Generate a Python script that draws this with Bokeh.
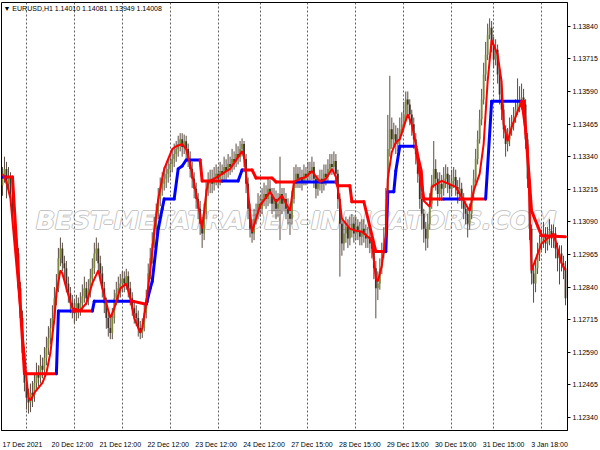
from bokeh.plotting import figure
from bokeh.models import (Range1d, FixedTicker, Label, ColumnDataSource, PrintfTickFormatter,
                          Grid, LinearAxis)
from bokeh.embed import file_html
from bokeh.resources import INLINE

# ---------------- data ----------------
symbol_text = "\u25bc EURUSD,H1  1.14010 1.14081 1.13949 1.14008"
watermark_text = "BEST-METATRADER-INDICATORS.COM"

first_open = 1.13230
close = [
    # 17 Dec
    1.13255, 1.13293, 1.13236, 1.13262, 1.13197, 1.13121, 1.13026, 1.12969, 1.12835, 1.12721, 1.12588, 1.12473,
    # 20 Dec
    1.12416, 1.12397, 1.12435, 1.12424, 1.12473, 1.12511, 1.12492, 1.12538, 1.12523, 1.12569, 1.12607, 1.12645,
    1.12683, 1.12721, 1.12797, 1.12835, 1.12950, 1.12988, 1.12931, 1.12912, 1.12854, 1.12816, 1.12778, 1.12759,
    # 21 Dec
    1.12740, 1.12778, 1.12751, 1.12778, 1.12805, 1.12835, 1.12797, 1.12828, 1.12873, 1.12912, 1.12969, 1.12988,
    1.12931, 1.12892, 1.12835, 1.12778, 1.12721, 1.12683, 1.12664, 1.12721, 1.12797, 1.12816, 1.12835, 1.12854,
    # 22 Dec
    1.12873, 1.12854, 1.12881, 1.12835, 1.12797, 1.12759, 1.12740, 1.12721, 1.12683, 1.12664, 1.12683, 1.12740,
    1.12797, 1.12892, 1.12950, 1.13007, 1.13064, 1.13121, 1.13178, 1.13217, 1.13236, 1.13255, 1.13274, 1.13293,
    # 23 Dec
    1.13312, 1.13331, 1.13350, 1.13369, 1.13388, 1.13407, 1.13377, 1.13399, 1.13369, 1.13331, 1.13293, 1.13255,
    1.13217, 1.13178, 1.13140, 1.13083, 1.13045, 1.13121, 1.13217, 1.13236, 1.13255, 1.13236, 1.13262, 1.13274,
    # 24 Dec
    1.13255, 1.13285, 1.13270, 1.13300, 1.13285, 1.13312, 1.13300, 1.13331, 1.13319, 1.13350, 1.13338, 1.13369,
    1.13388, 1.13331, 1.13236, 1.13140, 1.13064, 1.13045, 1.13102, 1.13121, 1.13159,
    # 27 Dec
    1.13140, 1.13178, 1.13197, 1.13178, 1.13217, 1.13197, 1.13159, 1.13178, 1.13140, 1.13159, 1.13197, 1.13159,
    1.13178, 1.13140, 1.13121, 1.13102, 1.13178, 1.13236, 1.13274, 1.13255, 1.13262, 1.13247, 1.13274, 1.13262,
    # 28 Dec
    1.13285, 1.13274, 1.13300, 1.13255, 1.13217, 1.13236, 1.13255, 1.13236, 1.13274, 1.13262, 1.13293, 1.13312,
    1.13300, 1.13323, 1.13274, 1.13178, 1.13083, 1.13007, 1.13045, 1.13072, 1.13026, 1.13064, 1.13083, 1.13045,
    # 29 Dec
    1.13072, 1.13056, 1.13033, 1.13064, 1.13045, 1.13026, 1.13033, 1.13007, 1.12988, 1.12912, 1.12835, 1.12854,
    1.12912, 1.12969, 1.13026, 1.13178, 1.13369, 1.13445, 1.13407, 1.13426, 1.13388, 1.13407, 1.13445, 1.13464,
    # 30 Dec
    1.13502, 1.13559, 1.13540, 1.13502, 1.13464, 1.13407, 1.13350, 1.13274, 1.13178, 1.13121, 1.13064, 1.13026,
    1.13083, 1.13159, 1.13236, 1.13293, 1.13255, 1.13197, 1.13236, 1.13217, 1.13255, 1.13274, 1.13236, 1.13217,
    # 31 Dec
    1.13247, 1.13262, 1.13224, 1.13197, 1.13217, 1.13178, 1.13140, 1.13121, 1.13083, 1.13121, 1.13197, 1.13255,
    1.13331, 1.13407, 1.13483, 1.13559, 1.13655, 1.13731, 1.13807, 1.13834, 1.13769,
    # 3 Jan
    1.13712, 1.13750, 1.13655, 1.13578, 1.13521, 1.13445, 1.13388, 1.13407, 1.13445, 1.13464, 1.13491, 1.13521,
    1.13540, 1.13559, 1.13567, 1.13540, 1.13407, 1.13255, 1.13064, 1.12892, 1.12854, 1.12912, 1.12969, 1.13007,
    # 4 Jan
    1.13026, 1.13045, 1.13007, 1.13033, 1.13056, 1.13026, 1.13045, 1.12988, 1.12950, 1.12969, 1.12931, 1.12912,
    1.12797,
]
high = [
    1.13300, 1.13340, 1.13320, 1.13300, 1.13280, 1.13215, 1.13140, 1.13060, 1.12990, 1.12860, 1.12750, 1.12610,
    1.12500, 1.12450, 1.12470, 1.12480, 1.12510, 1.12550, 1.12540, 1.12580, 1.12570, 1.12610, 1.12650, 1.12690,
    1.12720, 1.12770, 1.12840, 1.12890, 1.12990, 1.13030, 1.13010, 1.12960, 1.12940, 1.12880, 1.12840, 1.12810,
    1.12790, 1.12810, 1.12800, 1.12820, 1.12850, 1.12880, 1.12860, 1.12870, 1.12910, 1.12950, 1.13010, 1.13030,
    1.13010, 1.12960, 1.12920, 1.12860, 1.12800, 1.12750, 1.12720, 1.12760, 1.12830, 1.12860, 1.12880, 1.12890,
    1.12900, 1.12900, 1.12910, 1.12900, 1.12860, 1.12820, 1.12790, 1.12770, 1.12750, 1.12710, 1.12720, 1.12780,
    1.12830, 1.12930, 1.12990, 1.13050, 1.13110, 1.13160, 1.13220, 1.13260, 1.13280, 1.13300, 1.13310, 1.13330,
    1.13350, 1.13370, 1.13390, 1.13400, 1.13420, 1.13430, 1.13430, 1.13425, 1.13420, 1.13390, 1.13360, 1.13320,
    1.13280, 1.13240, 1.13200, 1.13170, 1.13110, 1.13160, 1.13250, 1.13280, 1.13290, 1.13290, 1.13300, 1.13310,
    1.13300, 1.13320, 1.13310, 1.13340, 1.13330, 1.13350, 1.13340, 1.13370, 1.13360, 1.13390, 1.13380, 1.13400,
    1.13410, 1.13400, 1.13350, 1.13260, 1.13160, 1.13100, 1.13140, 1.13160, 1.13200,
    1.13190, 1.13220, 1.13240, 1.13230, 1.13260, 1.13250, 1.13220, 1.13220, 1.13210, 1.13200, 1.13340, 1.13220,
    1.13220, 1.13200, 1.13180, 1.13160, 1.13210, 1.13300, 1.13310, 1.13300, 1.13300, 1.13290, 1.13310, 1.13300,
    1.13320, 1.13320, 1.13340, 1.13320, 1.13270, 1.13270, 1.13290, 1.13290, 1.13310, 1.13310, 1.13330, 1.13350,
    1.13350, 1.13360, 1.13350, 1.13290, 1.13200, 1.13100, 1.13090, 1.13110, 1.13100, 1.13110, 1.13120, 1.13110,
    1.13110, 1.13100, 1.13090, 1.13100, 1.13100, 1.13080, 1.13070, 1.13060, 1.13040, 1.13010, 1.12940, 1.12900,
    1.12950, 1.13010, 1.13070, 1.13220, 1.13500, 1.13650, 1.13490, 1.13470, 1.13460, 1.13450, 1.13490, 1.13510,
    1.13550, 1.13590, 1.13590, 1.13560, 1.13520, 1.13490, 1.13430, 1.13370, 1.13300, 1.13200, 1.13140, 1.13090,
    1.13120, 1.13200, 1.13270, 1.13400, 1.13330, 1.13280, 1.13280, 1.13270, 1.13300, 1.13310, 1.13300, 1.13270,
    1.13290, 1.13300, 1.13290, 1.13250, 1.13260, 1.13240, 1.13200, 1.13170, 1.13150, 1.13160, 1.13230, 1.13290,
    1.13370, 1.13440, 1.13520, 1.13600, 1.13700, 1.13780, 1.13850, 1.13870, 1.13860,
    1.13800, 1.13790, 1.13770, 1.13680, 1.13600, 1.13540, 1.13460, 1.13450, 1.13490, 1.13500, 1.13530, 1.13560,
    1.13640, 1.13610, 1.13620, 1.13600, 1.13560, 1.13430, 1.13280, 1.13080, 1.12920, 1.12950, 1.13010, 1.13040,
    1.13060, 1.13090, 1.13070, 1.13070, 1.13100, 1.13080, 1.13080, 1.13070, 1.13010, 1.13000, 1.13000, 1.12960,
    1.12940,
]
low = [
    1.13190, 1.13240, 1.13180, 1.13200, 1.13150, 1.13080, 1.12990, 1.12920, 1.12800, 1.12690, 1.12560, 1.12440,
    1.12370, 1.12355, 1.12360, 1.12380, 1.12400, 1.12450, 1.12460, 1.12470, 1.12490, 1.12500, 1.12540, 1.12580,
    1.12620, 1.12660, 1.12700, 1.12770, 1.12820, 1.12920, 1.12900, 1.12870, 1.12820, 1.12780, 1.12740, 1.12720,
    1.12700, 1.12710, 1.12720, 1.12730, 1.12750, 1.12780, 1.12770, 1.12770, 1.12800, 1.12850, 1.12890, 1.12940,
    1.12900, 1.12860, 1.12800, 1.12740, 1.12680, 1.12650, 1.12640, 1.12640, 1.12700, 1.12770, 1.12790, 1.12800,
    1.12820, 1.12820, 1.12830, 1.12800, 1.12770, 1.12730, 1.12700, 1.12690, 1.12650, 1.12640, 1.12645, 1.12670,
    1.12720, 1.12780, 1.12870, 1.12930, 1.12990, 1.13040, 1.13100, 1.13150, 1.13190, 1.13210, 1.13220, 1.13240,
    1.13260, 1.13280, 1.13300, 1.13320, 1.13340, 1.13360, 1.13340, 1.13350, 1.13330, 1.13300, 1.13260, 1.13220,
    1.13180, 1.13140, 1.13100, 1.13040, 1.12990, 1.13020, 1.13100, 1.13190, 1.13200, 1.13200, 1.13210, 1.13230,
    1.13220, 1.13230, 1.13240, 1.13250, 1.13250, 1.13260, 1.13270, 1.13280, 1.13290, 1.13300, 1.13310, 1.13320,
    1.13340, 1.13300, 1.13200, 1.13100, 1.13030, 1.13010, 1.13020, 1.13080, 1.13100,
    1.13110, 1.13120, 1.13150, 1.13140, 1.13150, 1.13160, 1.13120, 1.13130, 1.13100, 1.13110, 1.13020, 1.13120,
    1.13130, 1.13100, 1.13080, 1.13040, 1.13080, 1.13160, 1.13220, 1.13220, 1.13220, 1.13210, 1.13230, 1.13230,
    1.13240, 1.13240, 1.13250, 1.13220, 1.13180, 1.13190, 1.13210, 1.13200, 1.13210, 1.13230, 1.13240, 1.13270,
    1.13270, 1.13280, 1.13240, 1.13140, 1.12880, 1.12960, 1.12980, 1.13010, 1.12990, 1.13000, 1.13030, 1.13010,
    1.13020, 1.13020, 1.13000, 1.13000, 1.13010, 1.12990, 1.12990, 1.12970, 1.12950, 1.12870, 1.12720, 1.12790,
    1.12830, 1.12890, 1.12950, 1.13010, 1.13160, 1.13340, 1.13370, 1.13380, 1.13350, 1.13360, 1.13380, 1.13420,
    1.13440, 1.13480, 1.13500, 1.13460, 1.13420, 1.13370, 1.13310, 1.13240, 1.13140, 1.13060, 1.13010, 1.12980,
    1.12990, 1.13060, 1.13140, 1.13220, 1.13210, 1.13150, 1.13170, 1.13170, 1.13190, 1.13220, 1.13200, 1.13180,
    1.13190, 1.13220, 1.13190, 1.13160, 1.13170, 1.13140, 1.13100, 1.13080, 1.13030, 1.13060, 1.13100, 1.13180,
    1.13240, 1.13310, 1.13390, 1.13460, 1.13540, 1.13630, 1.13710, 1.13790, 1.13740,
    1.13680, 1.13690, 1.13620, 1.13540, 1.13480, 1.13410, 1.13340, 1.13360, 1.13380, 1.13420, 1.13440, 1.13470,
    1.13500, 1.13510, 1.13520, 1.13490, 1.13370, 1.13220, 1.13020, 1.12850, 1.12780, 1.12820, 1.12890, 1.12940,
    1.12980, 1.12990, 1.12970, 1.12980, 1.13000, 1.12990, 1.12990, 1.12950, 1.12900, 1.12850, 1.12900, 1.12870,
    1.12770,
]

# moving-average line (red), vertices
ma_bars = [0, 2, 4, 6, 8, 10, 12, 13, 14, 16, 20, 22, 24, 26, 27, 29, 30, 32, 35, 39,
           42, 45, 48, 50, 54, 56, 59, 62, 64, 66, 69, 70, 72, 74, 76, 78, 80, 81, 83, 85,
           87, 90, 92, 94, 96, 98, 100, 102, 103, 106, 110, 114, 118, 120, 121, 123, 125, 127, 129, 134,
           137, 140, 144, 146, 149, 152, 155, 159, 162, 165, 167, 169, 170, 174, 177, 180, 184, 185, 187, 188,
           190, 192, 193, 195, 197, 199, 203, 205, 208, 210, 211, 214, 215, 220, 227, 231, 234, 236, 239, 241,
           243, 245, 248, 250, 251, 253, 255, 258, 260, 263, 265, 270, 276, 280, 282]
ma_vals = [1.13274, 1.13243, 1.13178, 1.13007, 1.12835, 1.12664, 1.12492, 1.12416, 1.12405, 1.12435,
           1.12473, 1.12511, 1.12588, 1.12721, 1.12816, 1.12904, 1.12892, 1.12835, 1.12759, 1.12751,
           1.12778, 1.12854, 1.12904, 1.12835, 1.12721, 1.12759, 1.12835, 1.12854, 1.12797, 1.12721,
           1.12664, 1.12683, 1.12778, 1.12904, 1.13052, 1.13178, 1.13255, 1.13293, 1.13331, 1.13369,
           1.13380, 1.13388, 1.13369, 1.13312, 1.13236, 1.13159, 1.13064, 1.13197, 1.13243, 1.13255,
           1.13274, 1.13293, 1.13338, 1.13361, 1.13342, 1.13205, 1.13052, 1.13102, 1.13152, 1.13205,
           1.13167, 1.13190, 1.13132, 1.13243, 1.13255, 1.13262, 1.13285, 1.13243, 1.13255, 1.13293,
           1.13262, 1.13167, 1.13102, 1.13064, 1.13056, 1.13052, 1.13026, 1.13014, 1.12873, 1.12862,
           1.12923, 1.13037, 1.13255, 1.13357, 1.13395, 1.13407, 1.13502, 1.13464, 1.13350, 1.13285,
           1.13171, 1.13148, 1.13224, 1.13247, 1.13224, 1.13171, 1.13132, 1.13209, 1.13274, 1.13388,
           1.13628, 1.13788, 1.13731, 1.13628, 1.13464, 1.13399, 1.13453, 1.13513, 1.13548, 1.13376,
           1.12904, 1.13007, 1.13045, 1.12931, 1.12904]

# step line, vertices and direction of each segment (U = blue, D = red)
step_bars = [0, 2, 5, 11, 27, 28, 35, 45, 46, 65, 72, 74, 75, 78, 80, 81, 86, 88, 90, 92,
             99, 100, 110, 118, 120, 121, 125, 127, 135, 137, 147, 167, 168, 174, 175, 181, 187, 192, 193, 196,
             197, 199, 207, 211, 221, 229, 242, 245, 260, 261, 265, 270, 282]
step_vals = [1.13262, 1.13262, 1.13262, 1.12508, 1.12508, 1.12748, 1.12748, 1.12748, 1.12786, 1.12786,
             1.12774, 1.12835, 1.12862, 1.13064, 1.13140, 1.13178, 1.13178, 1.13293, 1.13304, 1.13327,
             1.13327, 1.13247, 1.13247, 1.13247, 1.13289, 1.13289, 1.13289, 1.13258, 1.13258, 1.13243,
             1.13243, 1.13243, 1.13228, 1.13228, 1.13167, 1.13167, 1.12976, 1.12976, 1.13205, 1.13205,
             1.13285, 1.13380, 1.13380, 1.13178, 1.13178, 1.13178, 1.13178, 1.13552, 1.13552, 1.13552,
             1.13132, 1.13037, 1.13033]
step_dir = list("UDDDUUDUUD" "UUUUUUUUUU" "DDUUUDDDDD" "UDDDDDDUUU" "UUDDUDUUDD" "DD")

x_tick_bars = [0, 24, 48, 72, 96, 120, 144, 168, 192, 216, 240, 264]
x_tick_labels = ["17 Dec 2021", "20 Dec 12:00", "21 Dec 12:00", "22 Dec 12:00", "23 Dec 12:00",
                 "24 Dec 12:00", "27 Dec 15:00", "28 Dec 15:00", "29 Dec 15:00", "30 Dec 15:00",
                 "31 Dec 15:00", "3 Jan 18:00"]
day_start_bars = [12, 36, 60, 84, 108, 129, 153, 177, 201, 225, 246, 270]
price_ticks = [1.12340, 1.12465, 1.12590, 1.12715, 1.12840, 1.12965, 1.13090,
               1.13215, 1.13340, 1.13465, 1.13590, 1.13715, 1.13840]

# ---------------- styling ----------------
FONT = "Liberation Sans"
BULL = "#7d8a3c"
BEAR = "#3f322a"
WICK = "#5a4c42"
# label centres sit right of each tick (MT4 draws the text after the tick)
LABEL_SHIFT = [10, 11, 11, 11, 11, 11, 11, 11, 11, 11, 11, 10]

N = len(close)
idx = list(range(N))
opens = [first_open] + close[:-1]
tops = [max(o, c) for o, c in zip(opens, close)]
bots = [min(o, c) for o, c in zip(opens, close)]
cols = [BULL if c >= o else BEAR for o, c in zip(opens, close)]

src = ColumnDataSource(dict(x=idx, h=high, l=low, top=tops, bot=bots, col=cols))

p = figure(width=600, height=450, output_backend="svg", toolbar_location=None,
           x_range=Range1d(-0.5, 283), y_range=Range1d(1.12290, 1.13931),
           x_axis_location=None, y_axis_location="right", tools="")
p.min_border_left = 1
p.min_border_top = 2
p.min_border_right = 32
p.min_border_bottom = 17
p.background_fill_color = "white"
p.border_fill_color = "white"
p.outline_line_color = "black"
p.center = [r for r in p.center if not isinstance(r, Grid)]

# x axis: the date labels, drawn just right of each tick position
centers = [b + s for b, s in zip(x_tick_bars, LABEL_SHIFT)]
label_axis = LinearAxis(ticker=FixedTicker(ticks=centers, minor_ticks=[]),
                        major_label_overrides={c: t for c, t in zip(centers, x_tick_labels)},
                        major_tick_line_color=None, minor_tick_line_color=None,
                        axis_line_color="black", major_label_standoff=4,
                        major_label_text_font=FONT, major_label_text_font_size="7px",
                        major_label_text_color="black")
p.add_layout(label_axis, "below")

p.yaxis.ticker = FixedTicker(ticks=price_ticks, minor_ticks=[])
p.yaxis.formatter = PrintfTickFormatter(format="%.5f")
p.yaxis.major_tick_out = 3
p.yaxis.major_tick_in = 0
p.yaxis.major_tick_line_color = "black"
p.yaxis.minor_tick_line_color = None
p.yaxis.major_label_standoff = 2
p.yaxis.major_label_text_font = FONT
p.yaxis.major_label_text_font_size = "7px"
p.yaxis.major_label_text_color = "black"
p.yaxis.axis_line_color = "black"

# watermark (outlined look)
WM_X, WM_Y = 147, 1.13094
for dx, dy in [(-1, 0), (1, 0), (0, -1), (0, 1)]:
    p.add_layout(Label(x=WM_X, y=WM_Y, x_offset=dx, y_offset=dy, text=watermark_text,
                       text_align="center", text_baseline="middle", text_font="DejaVu Sans",
                       text_font_size="25px", text_font_style="bold italic",
                       text_color="#c4c4c4", level="underlay"))
p.add_layout(Label(x=WM_X, y=WM_Y, text=watermark_text, text_align="center", text_baseline="middle",
                   text_font="DejaVu Sans", text_font_size="25px", text_font_style="bold italic",
                   text_color="white", level="underlay"))

# day separators (vertical dotted lines at each day start)
p.vspan(x=day_start_bars, line_color="#606060", line_dash="2 2", line_width=1)

# candles
p.segment(x0="x", y0="l", x1="x", y1="h", source=src, line_color=WICK, line_width=1)
p.vbar(x="x", width=0.9, top="top", bottom="bot", source=src, fill_color="col", line_color=None)

# step line
seg_color = ["#0000ff" if d == "U" else "#ff0000" for d in step_dir]
p.segment(x0=step_bars[:-1], y0=step_vals[:-1], x1=step_bars[1:], y1=step_vals[1:],
          line_color=seg_color, line_width=3, line_cap="round")

# moving average
p.line(ma_bars, ma_vals, line_color="#ff0000", line_width=2)

# header
p.add_layout(Label(x=-0.5, y=1.13931, x_offset=2, y_offset=-2, text=symbol_text,
                   text_baseline="top", text_align="left", text_font=FONT,
                   text_font_size="7px", text_color="black"))

open("out.html", "w").write(file_html(p, INLINE))
